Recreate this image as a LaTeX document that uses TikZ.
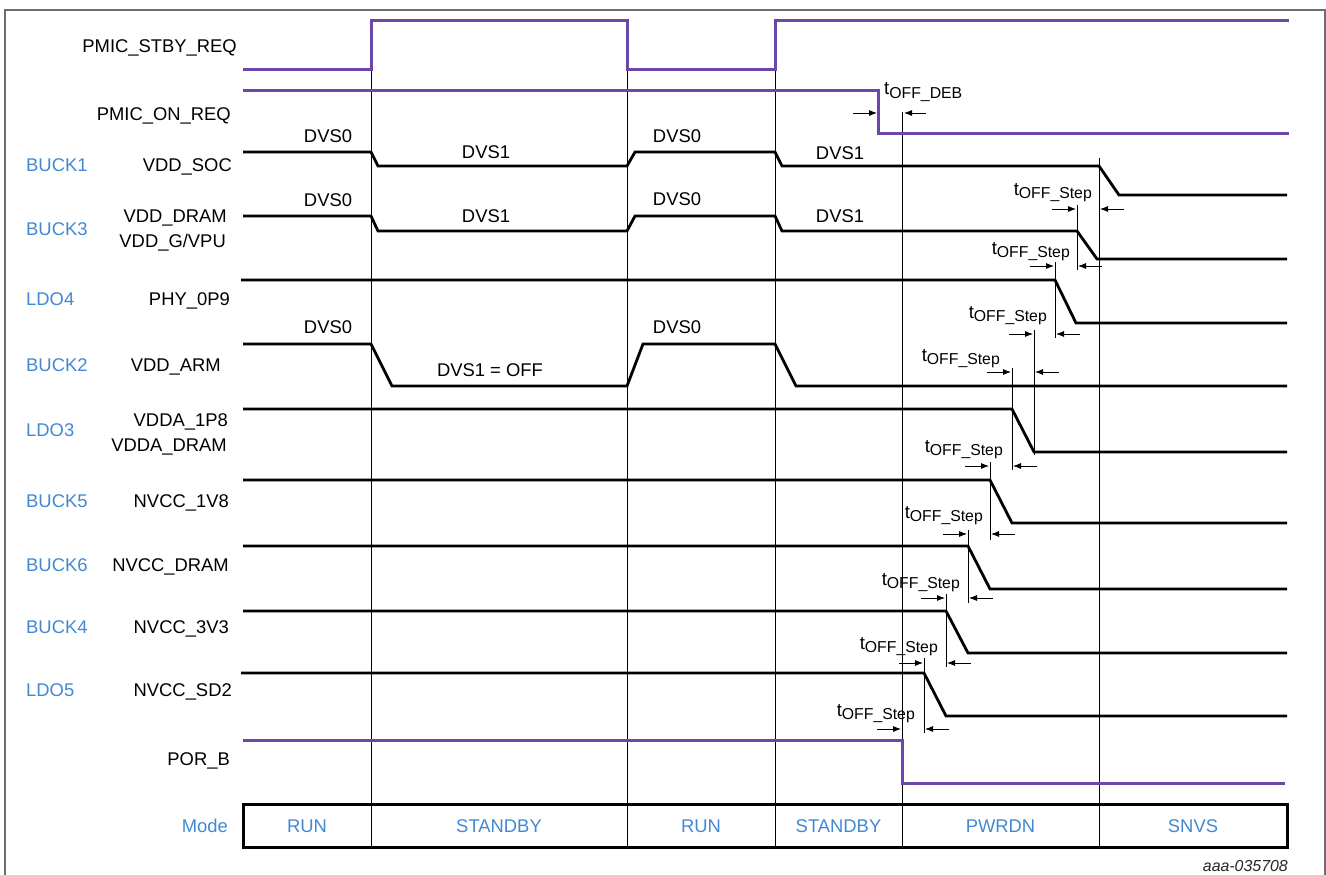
\documentclass[tikz,border=0pt]{standalone}
\usepackage{fontspec}
\setmainfont{Liberation Sans}
\usetikzlibrary{arrows.meta,calc}
\definecolor{sigpurple}{RGB}{108,70,168}
\definecolor{modeblue}{RGB}{66,136,210}
\definecolor{framegray}{RGB}{110,110,110}
\newcommand{\toffsub}[1]{t\raisebox{-3.5pt}{\fontsize{15.8}{16}\selectfont #1}}
\begin{document}
\begin{tikzpicture}[x=1pt,y=-1pt,
  lbl/.style={font=\fontsize{18.4}{20}\selectfont, inner sep=0pt, text height=13.2pt, text depth=0pt},
  bl/.style={lbl, text=modeblue},
  tlbl/.style={font=\fontsize{18.6}{20}\selectfont, inner sep=0pt},
  sig/.style={line width=2.8pt, line join=miter, line cap=butt},
  sigp/.style={sig, line width=3pt, draw=sigpurple},
  thinl/.style={line width=0.8pt},
  arr/.style={-{Latex[length=8pt,width=6pt]}, line width=0.8pt},
  modebox/.style={line width=3pt}]
\useasboundingbox (0,0) rectangle (1326,875);
% frame
\draw[framegray, line width=1.2pt] (5,876) -- (5,10) -- (1325,10) -- (1325,876);

% mode boundary lines
\foreach \x/\t in {371/70, 627/70, 775/70, 902/112, 1099/158}
  \draw[thinl] (\x,\t) -- (\x,847);
% step marker lines
\foreach \x/\a/\b in {1077/205/270, 1055/262/338, 1034/330/455, 1012/368/470, 990/462/540, 968/530/603, 946/594/667, 924/658/733}
  \draw[thinl] (\x,\a) -- (\x,\b);

% signals
\draw[sigp] (243,70) -- (371,70) -- (371,21) -- (627,21) -- (627,70) -- (775,70) -- (775,21) -- (1289,21);
\draw[sigp] (243,91) -- (878,91) -- (878,133) -- (1289,133);
\draw[sig] (243,152) -- (371,152) -- (378,166) -- (627,166) -- (635,152) -- (775,152) -- (782,166) -- (1099,166) -- (1119,195) -- (1287,195);
\draw[sig] (243,216) -- (371,216) -- (378,231) -- (627,231) -- (635,216) -- (775,216) -- (782,231) -- (1077,231) -- (1097,259) -- (1287,259);
\draw[sig] (241,280) -- (1055,280) -- (1076,323) -- (1287,323);
\draw[sig] (243,344) -- (371,344) -- (392,386) -- (627,386) -- (643,344) -- (775,344) -- (796,386) -- (1287,386);
\draw[sig] (243,409) -- (1012,409) -- (1034,452) -- (1287,452);
\draw[sig] (243,480) -- (990,480) -- (1012,523) -- (1287,523);
\draw[sig] (243,546) -- (968,546) -- (990,589) -- (1287,589);
\draw[sig] (243,611) -- (946,611) -- (968,653) -- (1287,653);
\draw[sig] (241,673) -- (924,673) -- (946,716) -- (1287,716);
\draw[sigp] (243,740) -- (902,740) -- (902,783) -- (1285,783);

% tOFF_DEB
\coordinate (debL) at (878,113);
\coordinate (debR) at (902,113);
\draw[arr] ($(debL)+(-25,0)$) -- ($(debL)+(-1,0)$);
\draw[arr] ($(debR)+(24,0)$) -- ($(debR)+(2,0)$);
\node[tlbl, anchor=base west] (deb) at (884,95) {\toffsub{OFF\_DEB}};

% tOFF_Step annotations: left x, right x, arrow y, label right x, label y
\foreach \xl/\xr/\ya/\lx/\ly/\n in {1077/1099/209/1092/192/a, 1055/1077/266/1070/251/b, 1034/1055/334/1047/315/c, 1012/1034/372/1000/358/d, 990/1012/466/1003/449/e, 968/990/534/983/515/f, 946/968/598/960/582/g, 924/946/663/938/646/h, 902/924/729/915/713/i}{
  \draw[arr] (\xl-25,\ya) -- (\xl-1,\ya);
  \draw[arr] (\xr+25,\ya) -- (\xr+1,\ya);
  \node[tlbl, anchor=base east] (step\n) at (\lx,\ly+3) {\toffsub{OFF\_Step}};
}

% DVS labels
\node[lbl] (d1) at (328,136) {DVS0};
\node[lbl] (d2) at (486,152) {DVS1};
\node[lbl] (d3) at (677,136) {DVS0};
\node[lbl] (d4) at (840,153) {DVS1};
\node[lbl] (d5) at (328,200) {DVS0};
\node[lbl] (d6) at (486,216) {DVS1};
\node[lbl] (d7) at (677,199) {DVS0};
\node[lbl] (d8) at (840,216) {DVS1};
\node[lbl] (d9) at (328,327) {DVS0};
\node[lbl] (d10) at (490,370) {DVS1 = OFF};
\node[lbl] (d11) at (677,327) {DVS0};

% signal names
\node[lbl, anchor=east] (n1) at (237,45.5) {PMIC\_STBY\_REQ};
\node[lbl, anchor=east] (n2) at (231,113.5) {PMIC\_ON\_REQ};
\node[lbl, anchor=east] (n3) at (232,165) {VDD\_SOC};
\node[lbl, anchor=east] (n4) at (227,216) {VDD\_DRAM};
\node[lbl, anchor=east] (n5) at (226,241) {VDD\_G/VPU};
\node[lbl, anchor=east] (n6) at (230,299) {PHY\_0P9};
\node[lbl, anchor=east] (n7) at (221,365) {VDD\_ARM};
\node[lbl, anchor=east] (n8) at (228,420) {VDDA\_1P8};
\node[lbl, anchor=east] (n9) at (227,445) {VDDA\_DRAM};
\node[lbl, anchor=east] (n10) at (229,501) {NVCC\_1V8};
\node[lbl, anchor=east] (n11) at (229,565) {NVCC\_DRAM};
\node[lbl, anchor=east] (n12) at (229,627) {NVCC\_3V3};
\node[lbl, anchor=east] (n13) at (232,690) {NVCC\_SD2};
\node[lbl, anchor=east] (n14) at (230,759) {POR\_B};

% regulator names
\node[bl, anchor=west] (r1) at (26,165) {BUCK1};
\node[bl, anchor=west] (r2) at (26,229) {BUCK3};
\node[bl, anchor=west] (r3) at (26,299) {LDO4};
\node[bl, anchor=west] (r4) at (26,365) {BUCK2};
\node[bl, anchor=west] (r5) at (26,430) {LDO3};
\node[bl, anchor=west] (r6) at (26,501) {BUCK5};
\node[bl, anchor=west] (r7) at (26,565) {BUCK6};
\node[bl, anchor=west] (r8) at (26,627) {BUCK4};
\node[bl, anchor=west] (r9) at (26,690) {LDO5};

% mode row
\draw[modebox] (243,804) rectangle (1287,847);
\node[bl, anchor=east] (mode) at (228,826) {Mode};
\node[bl] (m1) at (307,826) {RUN};
\node[bl] (m2) at (499,826) {STANDBY};
\node[bl] (m3) at (701,826) {RUN};
\node[bl] (m4) at (838.5,826) {STANDBY};
\node[bl] (m5) at (1000.5,826) {PWRDN};
\node[bl] (m6) at (1193,826) {SNVS};

\node[font=\fontsize{15.9}{18}\itshape, text=black!85, inner sep=0pt, anchor=east] (ref) at (1288,866) {aaa-035708};
\end{tikzpicture}
\end{document}
